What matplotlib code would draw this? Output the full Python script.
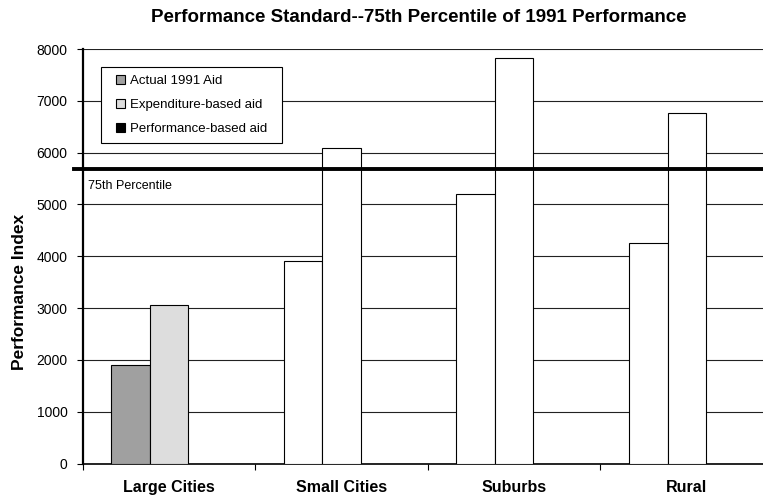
import matplotlib
matplotlib.use("Agg")
import matplotlib.pyplot as plt
import numpy as np
from matplotlib.patches import Patch, Rectangle
from matplotlib.transforms import blended_transform_factory

plt.rcParams['font.family'] = ['Liberation Sans', 'DejaVu Sans']

# data
categories = ['Large Cities', 'Small Cities', 'Suburbs', 'Rural']
actual_aid = [1910, 3900, 5200, 4250]
expenditure_aid = [3050, 6090, 7820, 6770]
performance_aid = [0, 0, 0, 0]
percentile_75 = 5680

series_names = ['Actual 1991 Aid', 'Expenditure-based aid', 'Performance-based aid']
legend_colors = ['#a0a0a0', '#dddddd', '#000000']
# only the Large Cities bars are shaded in the original
actual_colors = ['#a0a0a0', 'white', 'white', 'white']
expenditure_colors = ['#dddddd', 'white', 'white', 'white']

fig = plt.figure(figsize=(7.63, 5.0), dpi=100)
# plot area runs a little past the right edge, as in the reference
ax = fig.add_axes([82.7 / 763, 1 - 463.5 / 500, 690.4 / 763, 414.5 / 500])

x = np.arange(len(categories))
w = 0.2236
ax.bar(x - w, actual_aid, w, color=actual_colors, edgecolor='black', linewidth=0.8, zorder=3)
ax.bar(x, expenditure_aid, w, color=expenditure_colors, edgecolor='black', linewidth=0.8, zorder=3)
ax.bar(x + w, performance_aid, w, color='black', linewidth=0, zorder=3)

ax.set_xlim(-0.5, len(categories) - 0.5)
ax.set_ylim(0, 8000)
ax.set_yticks(np.arange(0, 8001, 1000))
ax.yaxis.grid(True, color='#222222', linewidth=0.8, zorder=0)
ax.set_axisbelow(True)

# category labels at centres, ticks at boundaries
ax.set_xticks(np.arange(-0.5, len(categories) - 0.4, 1.0))
ax.set_xticklabels([])
ax.set_xticks(x, minor=True)
ax.set_xticklabels(categories, minor=True, fontsize=11.5, fontweight='bold')
ax.tick_params(axis='x', which='major', length=4, width=0.8, direction='out')
ax.tick_params(axis='x', which='minor', length=0, pad=12)
ax.tick_params(axis='y', length=4, width=0.8, direction='out', labelsize=10, pad=7)

for s in ['top', 'right']:
    ax.spines[s].set_visible(False)
ax.spines['left'].set_linewidth(1.6)
ax.spines['bottom'].set_linewidth(1.2)

# 75th percentile line
ax.axhline(percentile_75, xmin=-0.0126, xmax=1, color='black', linewidth=2.8,
           clip_on=False, zorder=4)
trans = blended_transform_factory(ax.transAxes, ax.transData)
ax.text(0.007, percentile_75 - 330, '75th Percentile', transform=trans,
        fontsize=9, va='center', ha='left')

ax.set_ylabel('Performance Index', fontsize=12.5, fontweight='bold')
ax.yaxis.set_label_coords(-0.081, 0.414)

fig.text(419 / 763, 1 - 18 / 500,
         'Performance Standard--75th Percentile of 1991 Performance',
         ha='center', va='center', fontsize=13.5, fontweight='bold')

# legend box drawn separately so the padding can match the original
box = Rectangle((100.7 / 763, 1 - 143.3 / 500), 181 / 763, 76 / 500,
                transform=fig.transFigure, facecolor='white', edgecolor='black',
                linewidth=0.8, zorder=5)
fig.add_artist(box)

handles = [Patch(facecolor=c, edgecolor='black', linewidth=0.8) for c in legend_colors]
leg = fig.legend(handles, series_names, loc='upper left',
                 bbox_to_anchor=(108.5 / 763, 1 - 67.3 / 500),
                 borderaxespad=0, fontsize=9.5, handlelength=0.65, handleheight=0.65,
                 handletextpad=0.35, labelspacing=0.9, borderpad=0.6,
                 frameon=False)
leg.set_zorder(6)

fig.savefig('out.png', dpi=100)
